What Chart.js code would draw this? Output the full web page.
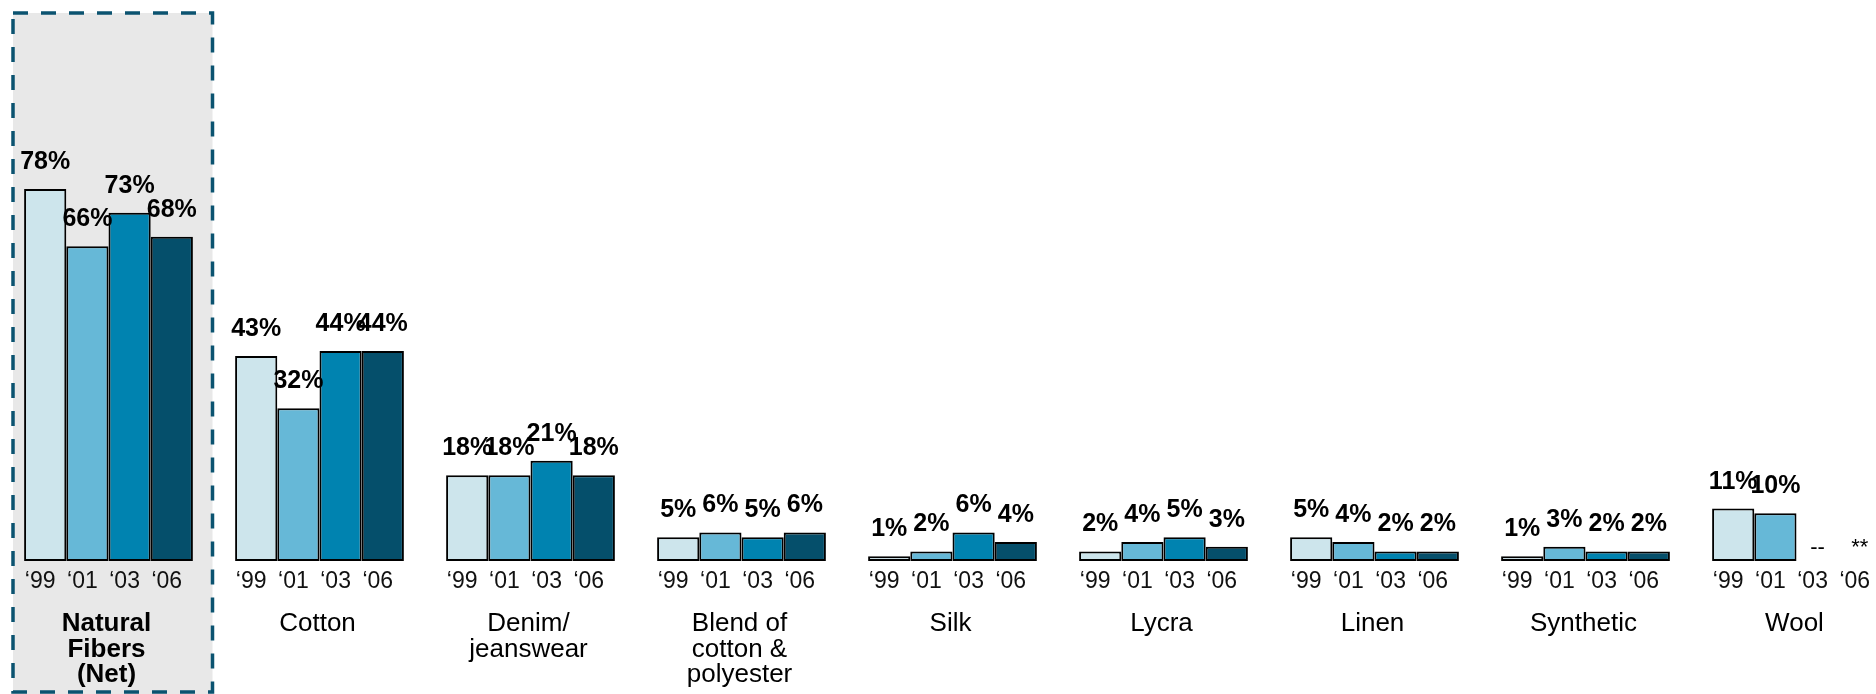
<!DOCTYPE html>
<html>
<head>
<meta charset="utf-8">
<script src="https://cdn.jsdelivr.net/npm/chart.js@4.4.0/dist/chart.umd.min.js"></script>
<style>
  html, body { margin: 0; padding: 0; background: #fff; overflow: hidden; }
  canvas { display: block; }
</style>
</head>
<body>
<canvas id="fiberChart" width="1905" height="694"></canvas>
<script>
var categories = [
  ['Natural', 'Fibers', '(Net)'],
  ['Cotton'],
  ['Denim/', 'jeanswear'],
  ['Blend of', 'cotton &', 'polyester'],
  ['Silk'],
  ['Lycra'],
  ['Linen'],
  ['Synthetic'],
  ['Wool']
];
var years = ['‘99', '‘01', '‘03', '‘06'];
var y1999 = [78, 43, 18, 5, 1, 2, 5, 1, 11];
var y2001 = [66, 32, 18, 6, 2, 4, 4, 3, 10];
var y2003 = [73, 44, 21, 5, 6, 5, 2, 2, null];
var y2006 = [68, 44, 18, 6, 4, 3, 2, 2, null];
// shown instead of a value when a year has no data
var missingMarks = ['', '', '--', '**'];

var colors = ['#cde5ec', '#66b8d7', '#0083b0', '#054f6b'];
var fontFamily = '"Liberation Sans", Arial, sans-serif';

function buildDataset(data, color, label) {
  return {
    label: label,
    data: data,
    backgroundColor: color,
    borderColor: '#000',
    borderWidth: 2,
    borderSkipped: false,
    categoryPercentage: 0.8,
    barPercentage: 1.0
  };
}

var labelPlugin = {
  id: 'fiberLabels',
  beforeDatasetsDraw: function(chart) {
    // shaded, dashed box round the first group
    var ctx = chart.ctx;
    var center = chart.scales.x.getPixelForValue(0);
    var left = center - 95.5;
    var right = center + 104;
    ctx.save();
    ctx.fillStyle = '#e8e8e8';
    ctx.fillRect(left, 13, right - left, 694);
    ctx.strokeStyle = '#0b5370';
    ctx.lineWidth = 3.5;
    ctx.setLineDash([15, 13]);
    ctx.strokeRect(left, 13, right - left, 679);
    ctx.restore();
  },
  afterDatasetsDraw: function(chart) {
    var ctx = chart.ctx;
    var bottom = chart.chartArea.bottom;
    ctx.save();
    ctx.fillStyle = '#000';
    ctx.textAlign = 'center';
    ctx.textBaseline = 'alphabetic';

    chart.data.datasets.forEach(function(ds, d) {
      var meta = chart.getDatasetMeta(d);
      meta.data.forEach(function(bar, i) {
        var x = bar.x;
        var v = ds.data[i];
        if (v === null) {
          ctx.font = '22px ' + fontFamily;
          ctx.fillText(missingMarks[d], x, bottom - 7);
        } else {
          ctx.font = 'bold 25px ' + fontFamily;
          ctx.fillText(v + '%', x, bar.y - 20);
        }
        ctx.font = '23px ' + fontFamily;
        ctx.fillStyle = '#111';
        ctx.fillText(years[d], x - 5, bottom + 27);
        ctx.fillStyle = '#000';
      });
    });

    categories.forEach(function(lines, i) {
      var x = chart.scales.x.getPixelForValue(i) - 2;
      ctx.font = (i === 0 ? 'bold ' : '') + '26px ' + fontFamily;
      lines.forEach(function(line, j) {
        ctx.fillText(line, x, bottom + 70 + j * 25.5);
      });
    });
    ctx.restore();
  }
};

new Chart(document.getElementById('fiberChart'), {
  type: 'bar',
  data: {
    labels: categories.map(function(c) { return c.join(' '); }),
    datasets: [
      buildDataset(y1999, colors[0], years[0]),
      buildDataset(y2001, colors[1], years[1]),
      buildDataset(y2003, colors[2], years[2]),
      buildDataset(y2006, colors[3], years[3])
    ]
  },
  options: {
    responsive: false,
    animation: false,
    layout: { padding: { left: 3, right: 3, top: 84, bottom: 133 } },
    plugins: {
      legend: { display: false },
      tooltip: { enabled: false }
    },
    scales: {
      x: { display: false },
      y: { display: false, min: 0, max: 100 }
    }
  },
  plugins: [labelPlugin]
});
</script>
</body>
</html>
